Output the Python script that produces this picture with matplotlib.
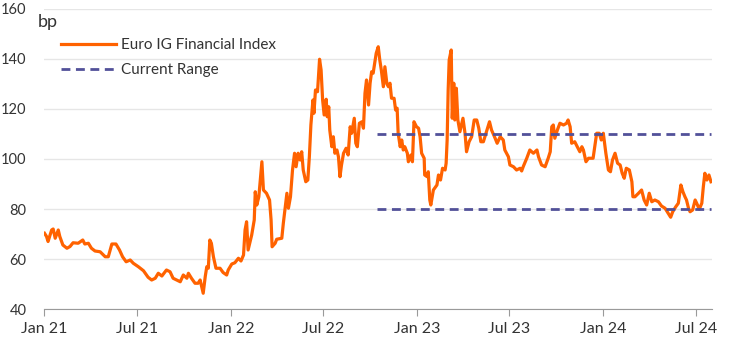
import pandas as pd
import matplotlib.pyplot as plt

# Euro IG Financial index spread, bp
dates = [
    "2021-01-01", "2021-01-05", "2021-01-08", "2021-01-15", "2021-01-18", "2021-01-22", "2021-01-28", "2021-01-31",
    "2021-02-06", "2021-02-14", "2021-02-20", "2021-02-26", "2021-03-08", "2021-03-17", "2021-03-21", "2021-03-28",
    "2021-04-03", "2021-04-10", "2021-04-20", "2021-04-30", "2021-05-06", "2021-05-13", "2021-05-21", "2021-05-28",
    "2021-06-03", "2021-06-10", "2021-06-18", "2021-06-24", "2021-07-04", "2021-07-14", "2021-07-23", "2021-07-30",
    "2021-08-06", "2021-08-12", "2021-08-19", "2021-08-28", "2021-09-04", "2021-09-10", "2021-09-17", "2021-09-24",
    "2021-09-30", "2021-10-07", "2021-10-10", "2021-10-16", "2021-10-23", "2021-10-29", "2021-11-02", "2021-11-05",
    "2021-11-08", "2021-11-12", "2021-11-15", "2021-11-18", "2021-11-21", "2021-11-24", "2021-11-28", "2021-12-03",
    "2021-12-11", "2021-12-17", "2021-12-24", "2021-12-27", "2022-01-03", "2022-01-09", "2022-01-16", "2022-01-21",
    "2022-01-26", "2022-01-29", "2022-02-01", "2022-02-04", "2022-02-11", "2022-02-16", "2022-02-18", "2022-02-21",
    "2022-02-25", "2022-03-03", "2022-03-06", "2022-03-12", "2022-03-18", "2022-03-21", "2022-03-23", "2022-03-29",
    "2022-04-01", "2022-04-11", "2022-04-14", "2022-04-17", "2022-04-21", "2022-04-24", "2022-04-28", "2022-05-02",
    "2022-05-06", "2022-05-09", "2022-05-13", "2022-05-17", "2022-05-20", "2022-05-23", "2022-05-28", "2022-06-01",
    "2022-06-04", "2022-06-07", "2022-06-11", "2022-06-13", "2022-06-16", "2022-06-20", "2022-06-24", "2022-06-27",
    "2022-06-30", "2022-07-03", "2022-07-07", "2022-07-09", "2022-07-12", "2022-07-14", "2022-07-18", "2022-07-21",
    "2022-07-24", "2022-07-28", "2022-07-31", "2022-08-03", "2022-08-06", "2022-08-10", "2022-08-15", "2022-08-19",
    "2022-08-23", "2022-08-26", "2022-08-31", "2022-09-03", "2022-09-06", "2022-09-10", "2022-09-15", "2022-09-18",
    "2022-09-21", "2022-09-24", "2022-09-28", "2022-10-01", "2022-10-04", "2022-10-07", "2022-10-13", "2022-10-17",
    "2022-10-20", "2022-10-23", "2022-10-27", "2022-10-30", "2022-11-03", "2022-11-06", "2022-11-09", "2022-11-12",
    "2022-11-17", "2022-11-20", "2022-11-23", "2022-11-25", "2022-11-29", "2022-12-02", "2022-12-05", "2022-12-08",
    "2022-12-13", "2022-12-15", "2022-12-20", "2022-12-23", "2022-12-26", "2022-12-31", "2023-01-04", "2023-01-07",
    "2023-01-10", "2023-01-15", "2023-01-16", "2023-01-21", "2023-01-23", "2023-01-26", "2023-01-28", "2023-02-02",
    "2023-02-09", "2023-02-12", "2023-02-16", "2023-02-20", "2023-02-25", "2023-02-27", "2023-03-01", "2023-03-03",
    "2023-03-05", "2023-03-09", "2023-03-11", "2023-03-14", "2023-03-16", "2023-03-19", "2023-03-22", "2023-03-26",
    "2023-04-01", "2023-04-05", "2023-04-08", "2023-04-13", "2023-04-18", "2023-04-23", "2023-04-28", "2023-05-02",
    "2023-05-06", "2023-05-11", "2023-05-14", "2023-05-19", "2023-05-23", "2023-05-27", "2023-06-03", "2023-06-07",
    "2023-06-13", "2023-06-19", "2023-06-22", "2023-06-29", "2023-07-02", "2023-07-09", "2023-07-15", "2023-07-22",
    "2023-07-25", "2023-07-28", "2023-08-04", "2023-08-10", "2023-08-17", "2023-08-24", "2023-08-27", "2023-09-02",
    "2023-09-09", "2023-09-15", "2023-09-19", "2023-09-22", "2023-09-25", "2023-09-28", "2023-10-03", "2023-10-08",
    "2023-10-15", "2023-10-21", "2023-10-24", "2023-10-28", "2023-10-31", "2023-11-06", "2023-11-11", "2023-11-16",
    "2023-11-20", "2023-11-23", "2023-11-28", "2023-12-03", "2023-12-12", "2023-12-19", "2023-12-24", "2023-12-28",
    "2024-01-01", "2024-01-06", "2024-01-11", "2024-01-15", "2024-01-19", "2024-01-24", "2024-01-29", "2024-02-03",
    "2024-02-07", "2024-02-11", "2024-02-15", "2024-02-21", "2024-02-26", "2024-02-28", "2024-03-03", "2024-03-10",
    "2024-03-16", "2024-03-21", "2024-03-26", "2024-03-31", "2024-04-05", "2024-04-11", "2024-04-18", "2024-04-24",
    "2024-05-01", "2024-05-07", "2024-05-12", "2024-05-16", "2024-05-22", "2024-05-27", "2024-06-01", "2024-06-05",
    "2024-06-09", "2024-06-12", "2024-06-16", "2024-06-19", "2024-06-24", "2024-06-29", "2024-07-02", "2024-07-07",
    "2024-07-12", "2024-07-15", "2024-07-18", "2024-07-22", "2024-07-26", "2024-07-30",
]
spread = [
    70.3, 69.0, 67.0, 71.6, 72.0, 68.3, 71.6, 69.0,
    65.6, 64.3, 65.0, 66.5, 66.3, 67.6, 66.0, 66.3,
    64.3, 63.2, 62.9, 60.9, 60.9, 66.0, 66.0, 63.6,
    60.9, 58.9, 59.6, 58.3, 56.9, 55.3, 52.7, 51.6,
    52.3, 54.3, 53.2, 55.6, 54.9, 52.3, 51.6, 50.9,
    53.6, 52.3, 54.3, 52.3, 50.3, 50.3, 51.6, 48.9,
    46.3, 53.0, 56.9, 56.3, 67.6, 66.3, 60.9, 56.3,
    56.3, 54.6, 53.6, 55.6, 58.0, 58.5, 60.3, 59.2,
    61.6, 71.6, 74.9, 63.6, 69.6, 75.6, 86.9, 81.6,
    84.9, 98.9, 87.6, 86.3, 83.6, 75.6, 64.9, 66.3,
    67.9, 68.3, 74.3, 79.6, 86.3, 80.3, 84.9, 95.6,
    102.3, 96.9, 102.3, 99.6, 102.9, 95.6, 90.9, 91.6,
    100.9, 113.6, 123.6, 118.3, 127.6, 126.9, 139.9, 135.6,
    123.6, 117.6, 123.9, 116.9, 120.9, 111.6, 104.9, 108.9,
    102.3, 103.6, 100.9, 92.9, 97.6, 102.3, 104.3, 101.6,
    112.9, 110.3, 116.3, 106.3, 104.9, 114.3, 114.9, 112.3,
    126.3, 131.6, 121.6, 130.3, 134.9, 134.3, 142.3, 144.9,
    139.6, 135.6, 128.9, 136.9, 130.0, 128.9, 130.3, 124.3,
    124.3, 119.6, 120.3, 110.3, 104.9, 107.6, 103.6, 104.9,
    102.3, 98.9, 101.6, 98.9, 114.9, 112.9, 112.3, 108.9,
    102.3, 100.3, 93.6, 92.9, 94.9, 83.6, 81.6, 87.6,
    89.6, 93.6, 91.6, 96.3, 95.6, 98.3, 107.6, 127.6,
    139.6, 143.6, 116.3, 130.3, 115.6, 128.3, 115.6, 110.9,
    116.3, 110.3, 102.9, 106.9, 108.9, 115.6, 115.6, 112.3,
    106.9, 106.9, 108.9, 112.3, 114.9, 111.6, 108.3, 106.3,
    108.9, 107.6, 103.6, 100.9, 97.6, 96.9, 95.6, 96.3,
    95.2, 96.9, 100.3, 103.6, 102.3, 103.6, 100.9, 97.6,
    96.9, 100.3, 102.9, 112.9, 113.6, 108.3, 111.6, 114.3,
    113.6, 114.3, 115.6, 112.9, 106.3, 106.9, 104.9, 102.9,
    104.9, 103.6, 98.9, 100.3, 100.3, 110.3, 110.3, 107.6,
    110.3, 102.3, 95.6, 94.9, 99.6, 102.3, 98.3, 97.6,
    94.3, 92.3, 96.3, 95.6, 90.9, 84.9, 84.9, 86.3,
    87.6, 83.6, 81.6, 86.3, 82.9, 83.6, 82.9, 81.2,
    80.3, 78.3, 76.7, 78.9, 80.9, 82.3, 89.6, 86.9,
    84.9, 83.6, 80.3, 78.9, 79.6, 83.6, 82.3, 79.9,
    82.3, 88.9, 94.3, 91.6, 93.6, 90.9,
]

# current trading range
range_start = "2022-10-14"
range_end = "2024-07-30"
range_high = 110
range_low = 80

x_ticks = ["2021-01-01", "2021-07-01", "2022-01-01", "2022-07-01",
           "2023-01-01", "2023-07-01", "2024-01-01", "2024-07-01"]
x_labels = ["Jan 21", "Jul 21", "Jan 22", "Jul 22", "Jan 23", "Jul 23", "Jan 24", "Jul 24"]
y_ticks = [40, 60, 80, 100, 120, 140, 160]

orange = "#FF6200"
navy = "#525199"
text_col = "#333333"

plt.rcParams['font.family'] = ['Lato', 'DejaVu Sans']

fig = plt.figure(figsize=(7.44, 3.43), dpi=100)
ax = fig.add_axes([0.0598, 0.0991, 0.8972, 0.8747])

d = pd.to_datetime(dates)
ax.plot(d, spread, color=orange, lw=2.3, label="Euro IG Financial Index", zorder=3)
rx = pd.to_datetime([range_start, range_end])
ax.plot(rx, [range_high, range_high], color=navy, lw=2.0, ls=(0, (3.2, 2.0)),
        label="Current Range", zorder=4)
ax.plot(rx, [range_low, range_low], color=navy, lw=2.0, ls=(0, (3.2, 2.0)), zorder=4)

ax.set_ylim(40, 160)
ax.set_yticks(y_ticks)
ax.set_xlim(pd.Timestamp("2021-01-01"), pd.Timestamp("2024-08-01"))
ax.set_xticks(pd.to_datetime(x_ticks))
ax.set_xticklabels(x_labels)

ax.grid(axis='y', color='#e6e6e6', lw=1.0)
ax.set_axisbelow(True)
for s in ['top', 'right', 'left']:
    ax.spines[s].set_visible(False)
ax.spines['bottom'].set_color('#9a9a9a')
ax.spines['bottom'].set_linewidth(0.8)
ax.tick_params(axis='y', length=0, pad=13, labelsize=10.5, labelcolor=text_col)
ax.tick_params(axis='x', length=5, color='#9a9a9a', width=0.8, pad=4,
               labelsize=11.5, labelcolor=text_col)

fig.text(38 / 744, 1 - 22 / 343, "bp", fontsize=13, color=text_col, va='center', ha='left')

fig.legend(loc='upper left', bbox_to_anchor=(61 / 744, 1 - 38 / 343), frameon=False,
           fontsize=11, handlelength=3.6, handletextpad=0.3, labelspacing=0.75,
           borderpad=0, borderaxespad=0, labelcolor=text_col)

fig.savefig("out.png", dpi=100)
